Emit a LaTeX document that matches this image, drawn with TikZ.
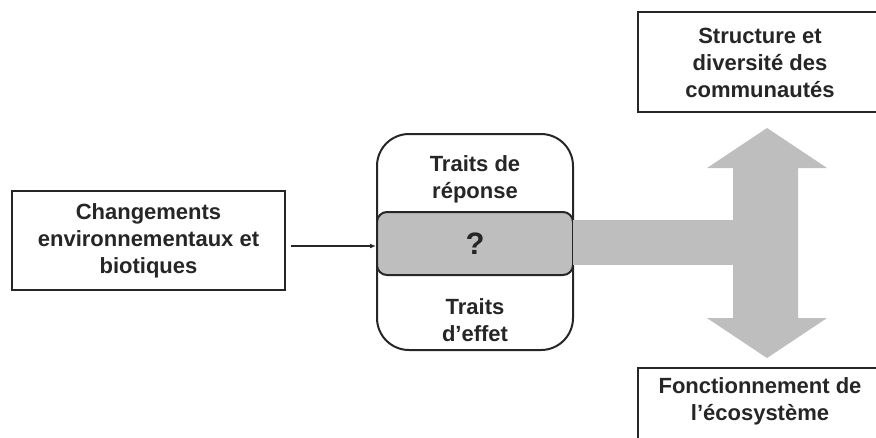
\documentclass[tikz,border=0pt]{standalone}
\usepackage{fontspec}
\setmainfont{Liberation Sans}
\usetikzlibrary{arrows.meta}
\definecolor{band}{RGB}{190,190,190}
\tikzset{
  lbl/.style={font=\fontsize{22}{27}\selectfont\bfseries, align=center, text=black!85, inner sep=0pt},
  sqbox/.style={draw=black!85, line width=2.8pt, fill=white, inner sep=0pt},
  rbox/.style={draw=black!85, line width=2pt, fill=white, rounded corners=32pt, inner sep=0pt},
  qband/.style={draw=black!85, line width=2pt, fill=band, rounded corners=10pt, inner sep=0pt},
  bigarrow/.style={fill=band, draw=none},
  link/.style={-{Latex[length=6pt,width=5pt]}, line width=1.3pt, draw=black!85}
}
\begin{document}
\begin{tikzpicture}[x=1pt,y=-1pt]
\useasboundingbox (0,0) rectangle (876,437);
% left box
\node[sqbox, minimum width=273pt, minimum height=99pt] (left) at (148.5,240.5) {};
\node[lbl] (lefttxt) at (148.5,241) {Changements\\environnementaux et\\biotiques};
% middle rounded box
\node[rbox, minimum width=196pt, minimum height=216pt] (mid) at (475,242) {};
\node[lbl] (resp) at (475,179) {Traits de\\réponse};
\node[qband, minimum width=196pt, minimum height=63pt] (q) at (475,243.5) {};
\node[lbl, font=\fontsize{31}{31}\selectfont\bfseries] (qmark) at (475,244) {?};
\node[lbl] (eff) at (475,320) {Traits\\d’effet};
% right boxes
\node[sqbox, minimum width=244pt, minimum height=100pt] (top) at (760,62) {};
\node[lbl] (toptxt) at (760,63) {Structure et\\diversité des\\communautés};
\node[sqbox, minimum width=244pt, minimum height=100pt] (bot) at (760,418) {};
\node[lbl] (bottxt) at (760,401) {Fonctionnement de\\l’écosystème};
% gray band and double arrow
\fill[bigarrow] ([xshift=-1.5pt]q.east |- 0,220) rectangle (740,265);
\fill[bigarrow] (733,168) -- (707,168) -- (767,128) -- (827,168) -- (798,168)
  -- (798,318) -- (827,318) -- (767,358) -- (707,318) -- (733,318) -- cycle;
% connector
\draw[link] ([xshift=5pt]left.east |- 0,246) -- (q.west |- 0,246);
\end{tikzpicture}
\end{document}
